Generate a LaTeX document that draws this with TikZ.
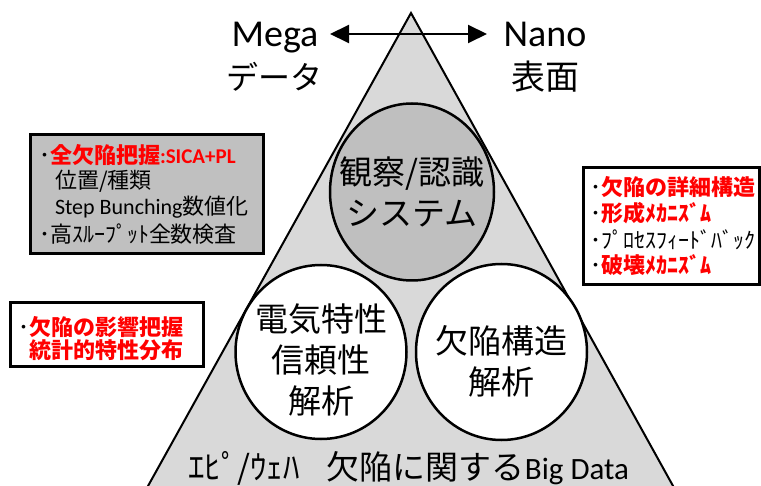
\documentclass[tikz,border=0pt]{standalone}
\usepackage{fontspec}
\setmainfont{Carlito}
\newfontfamily\jp{Noto Sans CJK JP}
\usetikzlibrary{arrows.meta,shapes.geometric}
\definecolor{trigray}{HTML}{D9D9D9}
\definecolor{obsgray}{HTML}{BFBFBF}
\definecolor{boxgray}{HTML}{C0C0C0}
\definecolor{jred}{HTML}{FF0000}
\newcommand{\fsz}[1]{\fontsize{#1}{#1}\selectfont}
\newcommand{\redb}[1]{\textcolor{jred}{\bfseries #1}}
\tikzset{
  bubble/.style={ellipse, draw=black, line width=2.5pt, inner sep=0pt},
  infobox/.style={rectangle, draw=black, line width=3pt, inner sep=0pt},
  txt/.style={inner sep=0pt, outer sep=0pt},
  bubtext/.style={txt, align=center, font=\jp\fontsize{33}{41}\selectfont},
  boxline/.style={txt, anchor=west, font=\jp\fsz{22}},
  bigtip/.tip={Triangle[length=19pt,width=18pt]}
}
\begin{document}
\begin{tikzpicture}[x=1pt,y=-1pt]
\useasboundingbox (0,0) rectangle (761,486);
\begin{scope}
\clip (0,0) rectangle (761,486);
\filldraw[fill=trigray, draw=black, line width=2pt] (411,13) -- (128,522) -- (693,522) -- cycle;
\end{scope}

% bubbles
\node[bubble, fill=obsgray, minimum width=164pt, minimum height=177pt] (obs) at (412,192) {};
\node[bubble, fill=white, minimum width=171pt, minimum height=174pt] (elec) at (321,352) {};
\node[bubble, fill=white, minimum width=171pt, minimum height=176pt] (defect) at (501.5,352) {};
\node[bubtext] (obst) at (412,192) {観察/認識\\システム};
\node[bubtext] (elect) at (321,360) {電気特性\\信頼性\\解析};
\node[bubtext] (defectt) at (501,361) {欠陥構造\\解析};

% top labels and arrow
\node[txt, anchor=base, font=\fsz{38}] (mega) at (275,47) {Mega};
\node[txt, font=\jp\fsz{32}] (data) at (274,77) {データ};
\node[txt, anchor=base, font=\fsz{38}] (nano) at (545,47) {Nano};
\node[txt, font=\jp\fsz{34}] (surf) at (545,77) {表面};
\coordinate (aL) at (330,34);
\coordinate (aR) at (487,34);
\draw[line width=2pt, bigtip-bigtip] (aL) -- (aR);

% box 1
\node[infobox, fill=boxgray, minimum width=233pt, minimum height=119pt] (box1) at (146.5,194.5) {};
\node[boxline] (b1l1) at (39,155) {･\redb{全欠陥把握}\redb{\rmfamily\fsz{21}:SICA+PL}};
\node[boxline] (b1l2) at (55,181) {位置/種類};
\node[boxline] (b1l3) at (55,207) {{\rmfamily Step Bunching}数値化};
\node[boxline] (b1l4) at (39,234) {･高ｽﾙｰﾌﾟｯﾄ全数検査};

% box 2
\node[infobox, fill=white, minimum width=176pt, minimum height=117pt] (box2) at (671,226.5) {};
\node[boxline] (b2l1) at (590,187) {･\redb{欠陥の詳細構造}};
\node[boxline] (b2l2) at (590,213) {･\redb{形成ﾒｶﾆｽﾞﾑ}};
\node[boxline] (b2l3) at (590,240) {･ﾌﾟﾛｾｽﾌｨｰﾄﾞﾊﾞｯｸ};
\node[boxline] (b2l4) at (590,265) {･\redb{破壊ﾒｶﾆｽﾞﾑ}};

% box 3
\node[infobox, fill=white, minimum width=193pt, minimum height=64pt] (box3) at (106.5,335) {};
\node[boxline] (b3l1) at (19,327) {･\redb{欠陥の影響把握}};
\node[boxline] (b3l2) at (30,350) {\redb{統計的特性分布}};

% bottom text
\node[txt, anchor=base west, font=\jp\fsz{33}] (big) at (188,479) {ｴﾋﾟ/ｳｪﾊ\hspace{27pt}欠陥に関する{\rmfamily\fsz{31}Big Data}};
\end{tikzpicture}
\end{document}
